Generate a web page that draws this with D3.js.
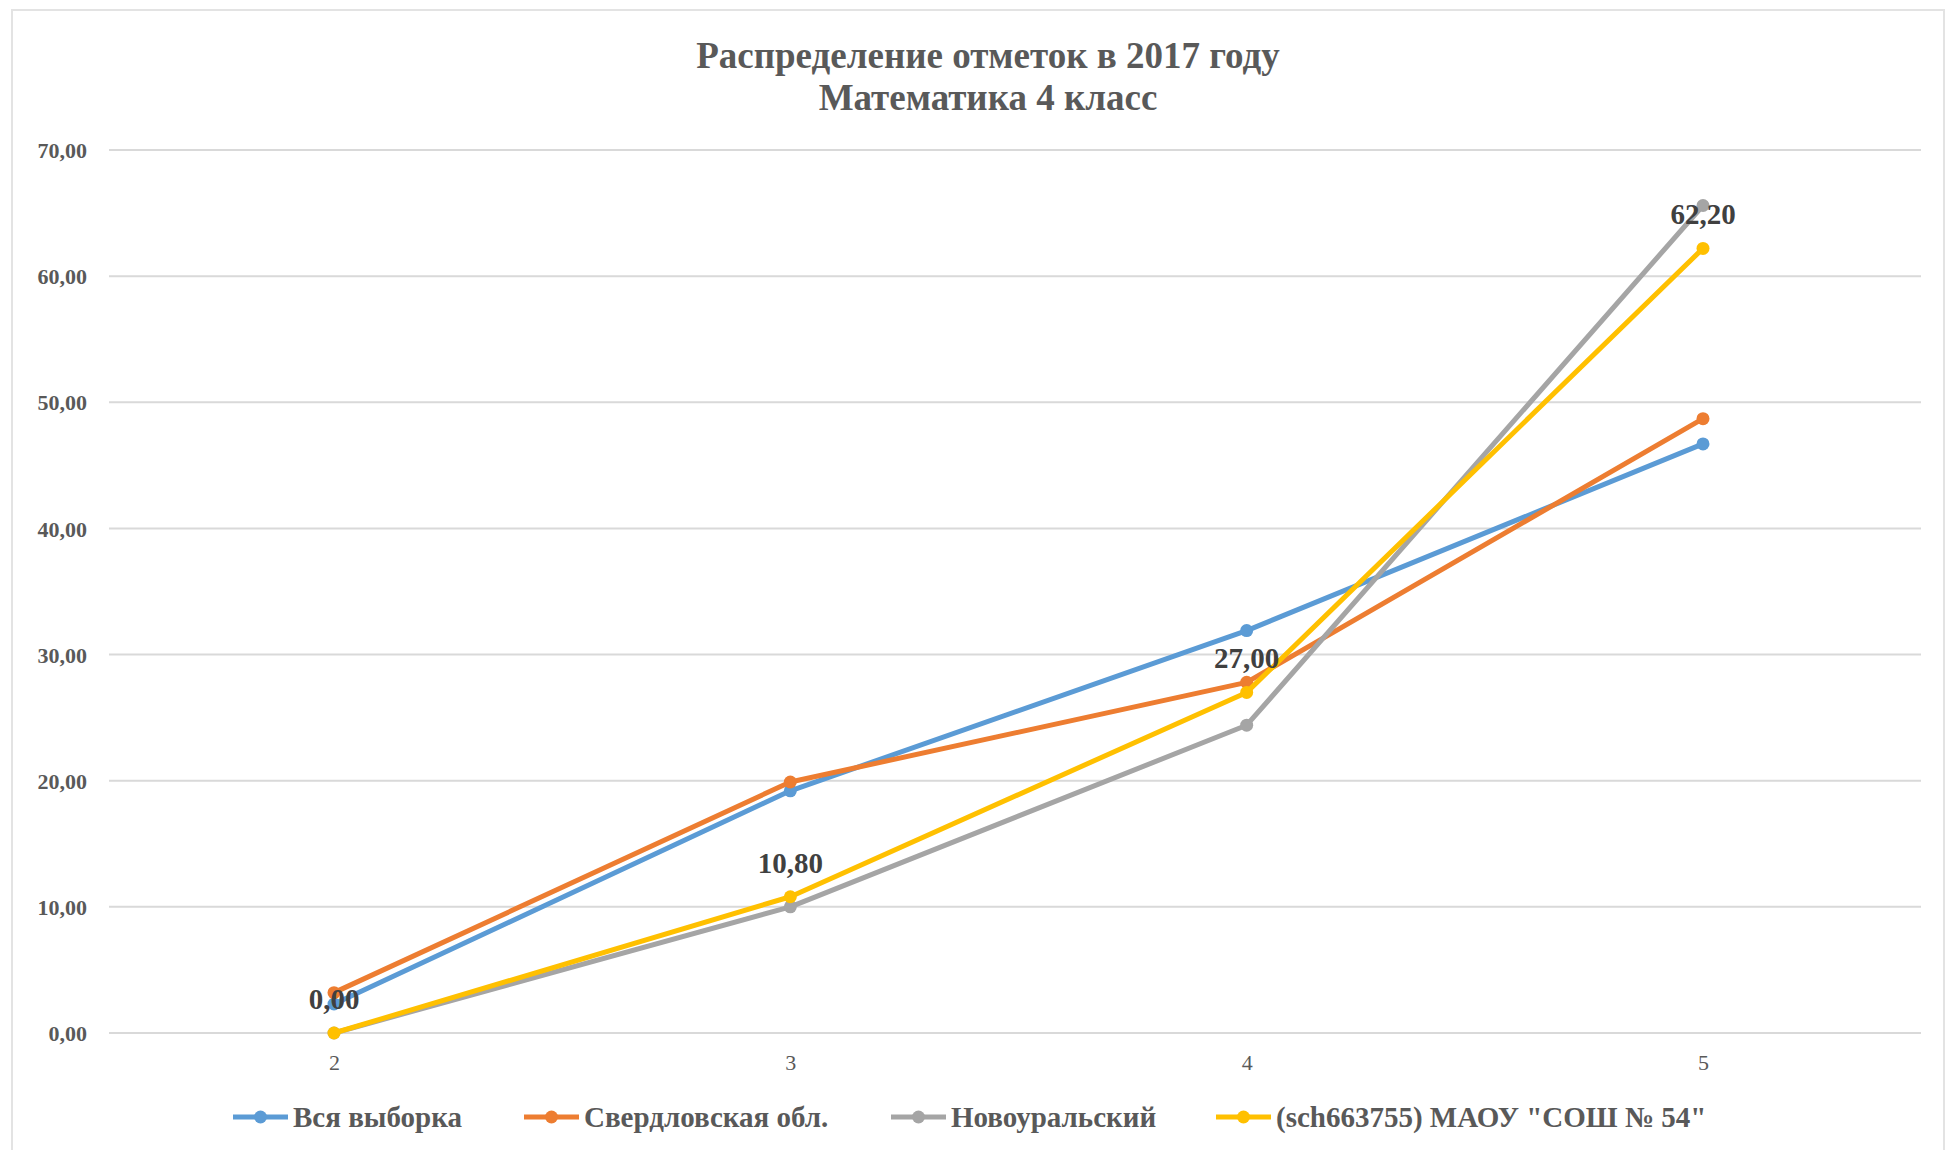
<!DOCTYPE html>
<html><head><meta charset="utf-8">
<script src="https://cdn.jsdelivr.net/npm/d3@7"></script>
<style>body{margin:0;background:#fff;}svg{display:block;}</style>
</head><body>
<script>
const categories = ["2","3","4","5"];
const seriesNames = ["Вся выборка","Свердловская обл.","Новоуральский","(sch663755) МАОУ \"СОШ № 54\""];
const seriesColors = ["#5b9bd5","#ed7d31","#a5a5a5","#ffc000"];
const valuesAll = [2.3, 19.2, 31.9, 46.7];
const valuesRegion = [3.2, 19.9, 27.8, 48.7];
const valuesCity = [0.0, 10.0, 24.4, 65.6];
const valuesSchool = [0.0, 10.8, 27.0, 62.2];
const yTicks = [0,10,20,30,40,50,60,70];
const titleLines = ["Распределение отметок в 2017 году","Математика 4 класс"];

const W=1946,H=1150;
const svg=d3.select("body").append("svg").attr("width",W).attr("height",H);
svg.append("rect").attr("x",12).attr("y",10).attr("width",W-14).attr("height",H-8).attr("fill","#fff").attr("stroke","#e3e3e3").attr("stroke-width",2);

const serif="'Liberation Serif','Times New Roman',serif";
svg.selectAll("text.title").data(titleLines).join("text").attr("class","title")
  .attr("x",988).attr("y",(d,i)=>68+i*42).attr("text-anchor","middle")
  .attr("font-family",serif).attr("font-weight","bold").attr("font-size",37).attr("fill","#595959").text(d=>d);

const x=d3.scalePoint().domain(categories).range([334,1703]);
const y=d3.scaleLinear().domain([0,70]).range([1033,150]);

const gridG=svg.append("g");
gridG.selectAll("line").data(yTicks).join("line")
  .attr("x1",109).attr("x2",1921).attr("y1",d=>y(d)).attr("y2",d=>y(d))
  .attr("stroke","#d9d9d9").attr("stroke-width",2);

const yAxis=svg.append("g").attr("transform","translate(87,0)")
  .call(d3.axisLeft(y).tickValues(yTicks).tickSize(0).tickPadding(0).tickFormat(d=>d3.format(".2f")(d).replace(".",",")));
yAxis.select(".domain").remove();
yAxis.selectAll("text").attr("font-family",serif).attr("font-weight","bold").attr("font-size",22).attr("fill","#595959").attr("dy","0.35em");

const xAxis=svg.append("g").attr("transform","translate(0,1050)")
  .call(d3.axisBottom(x).tickSize(0).tickPadding(0));
xAxis.select(".domain").remove();
xAxis.selectAll("text").attr("font-family",serif).attr("font-size",22).attr("fill","#595959").attr("dy","0.9em");

const allSeries=[valuesAll,valuesRegion,valuesCity,valuesSchool];
const line=d3.line().x((d,i)=>x(categories[i])).y(d=>y(d));
allSeries.forEach((vals,si)=>{
  const g=svg.append("g");
  g.append("path").datum(vals).attr("d",line).attr("fill","none").attr("stroke",seriesColors[si]).attr("stroke-width",5).attr("stroke-linejoin","round");
  g.selectAll("circle").data(vals).join("circle").attr("cx",(d,i)=>x(categories[i])).attr("cy",d=>y(d)).attr("r",6.5).attr("fill",seriesColors[si]);
});

svg.append("g").selectAll("text").data(valuesSchool).join("text")
  .attr("x",(d,i)=>x(categories[i])).attr("y",d=>y(d)-24).attr("text-anchor","middle")
  .attr("font-family",serif).attr("font-weight","bold").attr("font-size",29).attr("fill","#404040")
  .text(d=>d3.format(".2f")(d).replace(".",","));

const legendX=[233,524,891,1216];
const lg=svg.append("g");
seriesNames.forEach((n,i)=>{
  const g=lg.append("g").attr("transform",`translate(${legendX[i]},1117)`);
  g.append("line").attr("x1",0).attr("x2",55).attr("y1",0).attr("y2",0).attr("stroke",seriesColors[i]).attr("stroke-width",5);
  g.append("circle").attr("cx",27.5).attr("cy",0).attr("r",6.5).attr("fill",seriesColors[i]);
  g.append("text").attr("x",60).attr("y",0).attr("dy","0.35em").attr("font-family",serif).attr("font-weight","bold").attr("font-size",29).attr("fill","#595959").text(n);
});
</script>
</body></html>
